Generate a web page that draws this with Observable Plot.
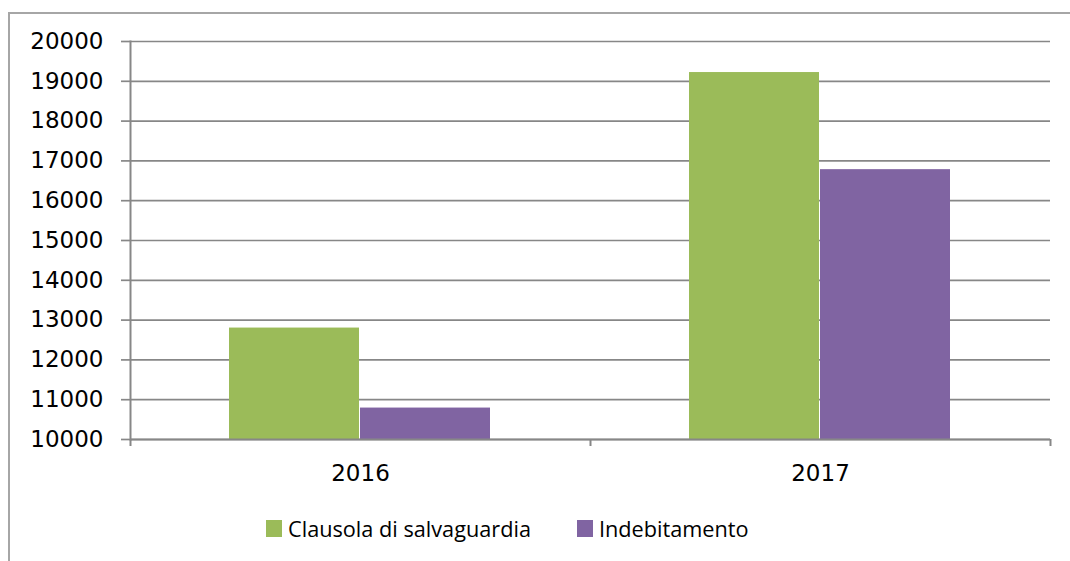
<!DOCTYPE html>
<html>
<head>
<meta charset="utf-8">
<script src="https://cdn.jsdelivr.net/npm/d3@7"></script>
<script src="https://cdn.jsdelivr.net/npm/@observablehq/plot@0.6"></script>
<style>
  html, body { margin: 0; padding: 0; background: #fff; }
  #wrap { position: relative; width: 1070px; height: 561px; overflow: hidden; background: #fff; }
  #border { position: absolute; left: 8px; top: 12px; width: 1200px; height: 700px;
            border-left: 2px solid #a6a6a6; border-top: 2px solid #a6a6a6; box-sizing: border-box; }
  #chart { position: absolute; left: 0; top: 0; }
  #legend { position: absolute; left: 266px; top: 514px; display: flex; align-items: center;
            font-family: "Open Sans", sans-serif; font-size: 21.7px; color: #000; }
  .item { display: flex; align-items: center; }
  .sw { width: 16px; height: 17px; margin-right: 6px; }
</style>
</head>
<body>
<div id="wrap">
  <div id="border"></div>
  <div id="chart"></div>
  <div id="legend"></div>
</div>
<script>
const years = ["2016", "2017"];
const seriesNames = ["Clausola di salvaguardia", "Indebitamento"];
const clausola = [12800, 19220];
const indebitamento = [10790, 16780];
const yTicks = [10000, 11000, 12000, 13000, 14000, 15000, 16000, 17000, 18000, 19000, 20000];
const colors = ["#9BBB59", "#8064A2"];

const dataC = years.map((y, i) => ({year: y, series: seriesNames[0], value: clausola[i]}));
const dataI = years.map((y, i) => ({year: y, series: seriesNames[1], value: indebitamento[i]}));

const W = 1070, H = 561, mL = 130, mR = 20, mT = 41, mB = 122;
const band = (W - mL - mR) / years.length;
const gray = "#878787";
const ff = "'DejaVu Sans', sans-serif";

const plot = Plot.plot({
  width: W, height: H,
  marginLeft: mL, marginRight: mR, marginTop: mT, marginBottom: mB,
  style: {fontFamily: ff, color: "#000", background: "transparent"},
  x: {domain: years, padding: 0, label: null},
  y: {domain: [yTicks[0], yTicks[yTicks.length - 1]], label: null},
  marks: [
    Plot.gridY(yTicks, {stroke: gray, strokeOpacity: 1, strokeWidth: 1.7}),
    Plot.barY(dataC, {x: "year", y1: yTicks[0], y2: "value", fill: colors[0], insetLeft: 99, insetRight: 231}),
    Plot.barY(dataI, {x: "year", y1: yTicks[0], y2: "value", fill: colors[1], insetLeft: 230, insetRight: 100}),
    Plot.ruleY([yTicks[0]], {stroke: gray, strokeWidth: 2}),
    Plot.frame({anchor: "left", stroke: gray, strokeWidth: 2}),
    Plot.axisY(yTicks, {tickSize: 9, tickPadding: 18, fontSize: 23, fontFamily: ff, tickFormat: d => String(d), stroke: gray, strokeWidth: 1.7, fill: "#000", label: null}),
    Plot.axisX({tickSize: 0, tickPadding: 25, fontSize: 23, fontFamily: ff, fill: "#000", label: null}),
    Plot.axisX({tickSize: 7, tickFormat: () => "", dx: band / 2, stroke: gray, strokeWidth: 2, label: null}),
    Plot.axisX([years[0]], {tickSize: 7, tickFormat: () => "", dx: -band / 2, stroke: gray, strokeWidth: 2, label: null})
  ]
});
document.getElementById("chart").appendChild(plot);

const legend = document.getElementById("legend");
seriesNames.forEach((name, i) => {
  const item = document.createElement("div");
  item.className = "item";
  if (i > 0) item.style.marginLeft = "46px";
  const sw = document.createElement("div");
  sw.className = "sw";
  sw.style.background = colors[i];
  const t = document.createElement("span");
  t.textContent = name;
  item.appendChild(sw);
  item.appendChild(t);
  legend.appendChild(item);
});
</script>
</body>
</html>
